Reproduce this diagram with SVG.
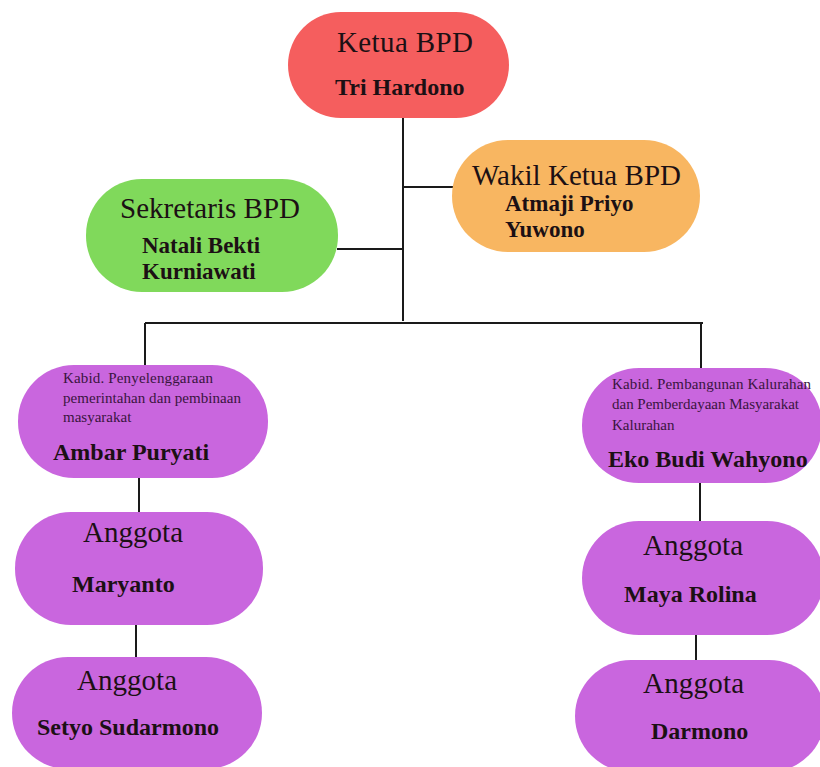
<svg xmlns="http://www.w3.org/2000/svg" width="820" height="767" viewBox="0 0 820 767">
<style>
.t{font-family:"Liberation Serif","Times New Roman",serif;fill:#1c1014}
.h{font-size:29px}
.b{font-weight:bold;font-size:24px}
.b2{font-weight:bold;font-size:23px}
.s{font-size:15px;fill:#3a1540}
.ln{stroke:#1a1a1a;stroke-width:2;fill:none}
.red{fill:#F55E5E}.grn{fill:#80D95B}.org{fill:#F8B661}.pur{fill:#C966DE}
</style>
<rect width="820" height="767" fill="#ffffff"/>
<g id="connectors" class="ln">
<path d="M403 118V321"/>
<path d="M403 187H453"/>
<path d="M337 249H403"/>
<path d="M145 323H703"/>
<path d="M145 323V366"/>
<path d="M701 323V369"/>
<path d="M139 478V512"/>
<path d="M136 625V657"/>
<path d="M700 483V521"/>
<path d="M696 635V660"/>
</g>
<g id="ketua">
<rect class="red" x="288" y="12" width="221" height="106" rx="53"/>
<text class="t h" x="337" y="52" textLength="136">Ketua BPD</text>
<text class="t b" x="335" y="95">Tri Hardono</text>
</g>
<g id="wakil">
<rect class="org" x="452" y="140" width="248" height="112" rx="56"/>
<text class="t h" x="472" y="185" textLength="209">Wakil Ketua BPD</text>
<text class="t b2" x="505" y="211">Atmaji Priyo</text>
<text class="t b2" x="505" y="237">Yuwono</text>
</g>
<g id="sekretaris">
<rect class="grn" x="86" y="179" width="252" height="113" rx="56"/>
<text class="t h" x="120" y="218" textLength="180">Sekretaris BPD</text>
<text class="t b2" x="142" y="253">Natali Bekti</text>
<text class="t b2" x="142" y="279">Kurniawati</text>
</g>
<g id="kabid-kiri">
<rect class="pur" x="18" y="365" width="250" height="113" rx="56"/>
<text class="t s" x="63" y="383" textLength="150">Kabid. Penyelenggaraan</text>
<text class="t s" x="63" y="403" textLength="178">pemerintahan dan pembinaan</text>
<text class="t s" x="63" y="422">masyarakat</text>
<text class="t b" x="53" y="460">Ambar Puryati</text>
</g>
<g id="kabid-kanan">
<rect class="pur" x="582" y="368" width="240" height="115" rx="57"/>
<text class="t s" x="612" y="389" textLength="199">Kabid. Pembangunan Kalurahan</text>
<text class="t s" x="612" y="409" textLength="187">dan Pemberdayaan Masyarakat</text>
<text class="t s" x="612" y="430">Kalurahan</text>
<text class="t b" x="608" y="467">Eko Budi Wahyono</text>
</g>
<g id="anggota-maryanto">
<rect class="pur" x="15" y="512" width="248" height="113" rx="56"/>
<text class="t h" x="83" y="542" textLength="100">Anggota</text>
<text class="t b" x="72" y="592">Maryanto</text>
</g>
<g id="anggota-setyo">
<rect class="pur" x="12" y="657" width="250" height="112" rx="56"/>
<text class="t h" x="77" y="690" textLength="100">Anggota</text>
<text class="t b" x="37" y="735">Setyo Sudarmono</text>
</g>
<g id="anggota-maya">
<rect class="pur" x="582" y="521" width="242" height="114" rx="57"/>
<text class="t h" x="643" y="555" textLength="100">Anggota</text>
<text class="t b" x="624" y="602">Maya Rolina</text>
</g>
<g id="anggota-darmono">
<rect class="pur" x="575" y="660" width="250" height="112" rx="56"/>
<text class="t h" x="643" y="693" textLength="101">Anggota</text>
<text class="t b" x="651" y="739">Darmono</text>
</g>
</svg>
